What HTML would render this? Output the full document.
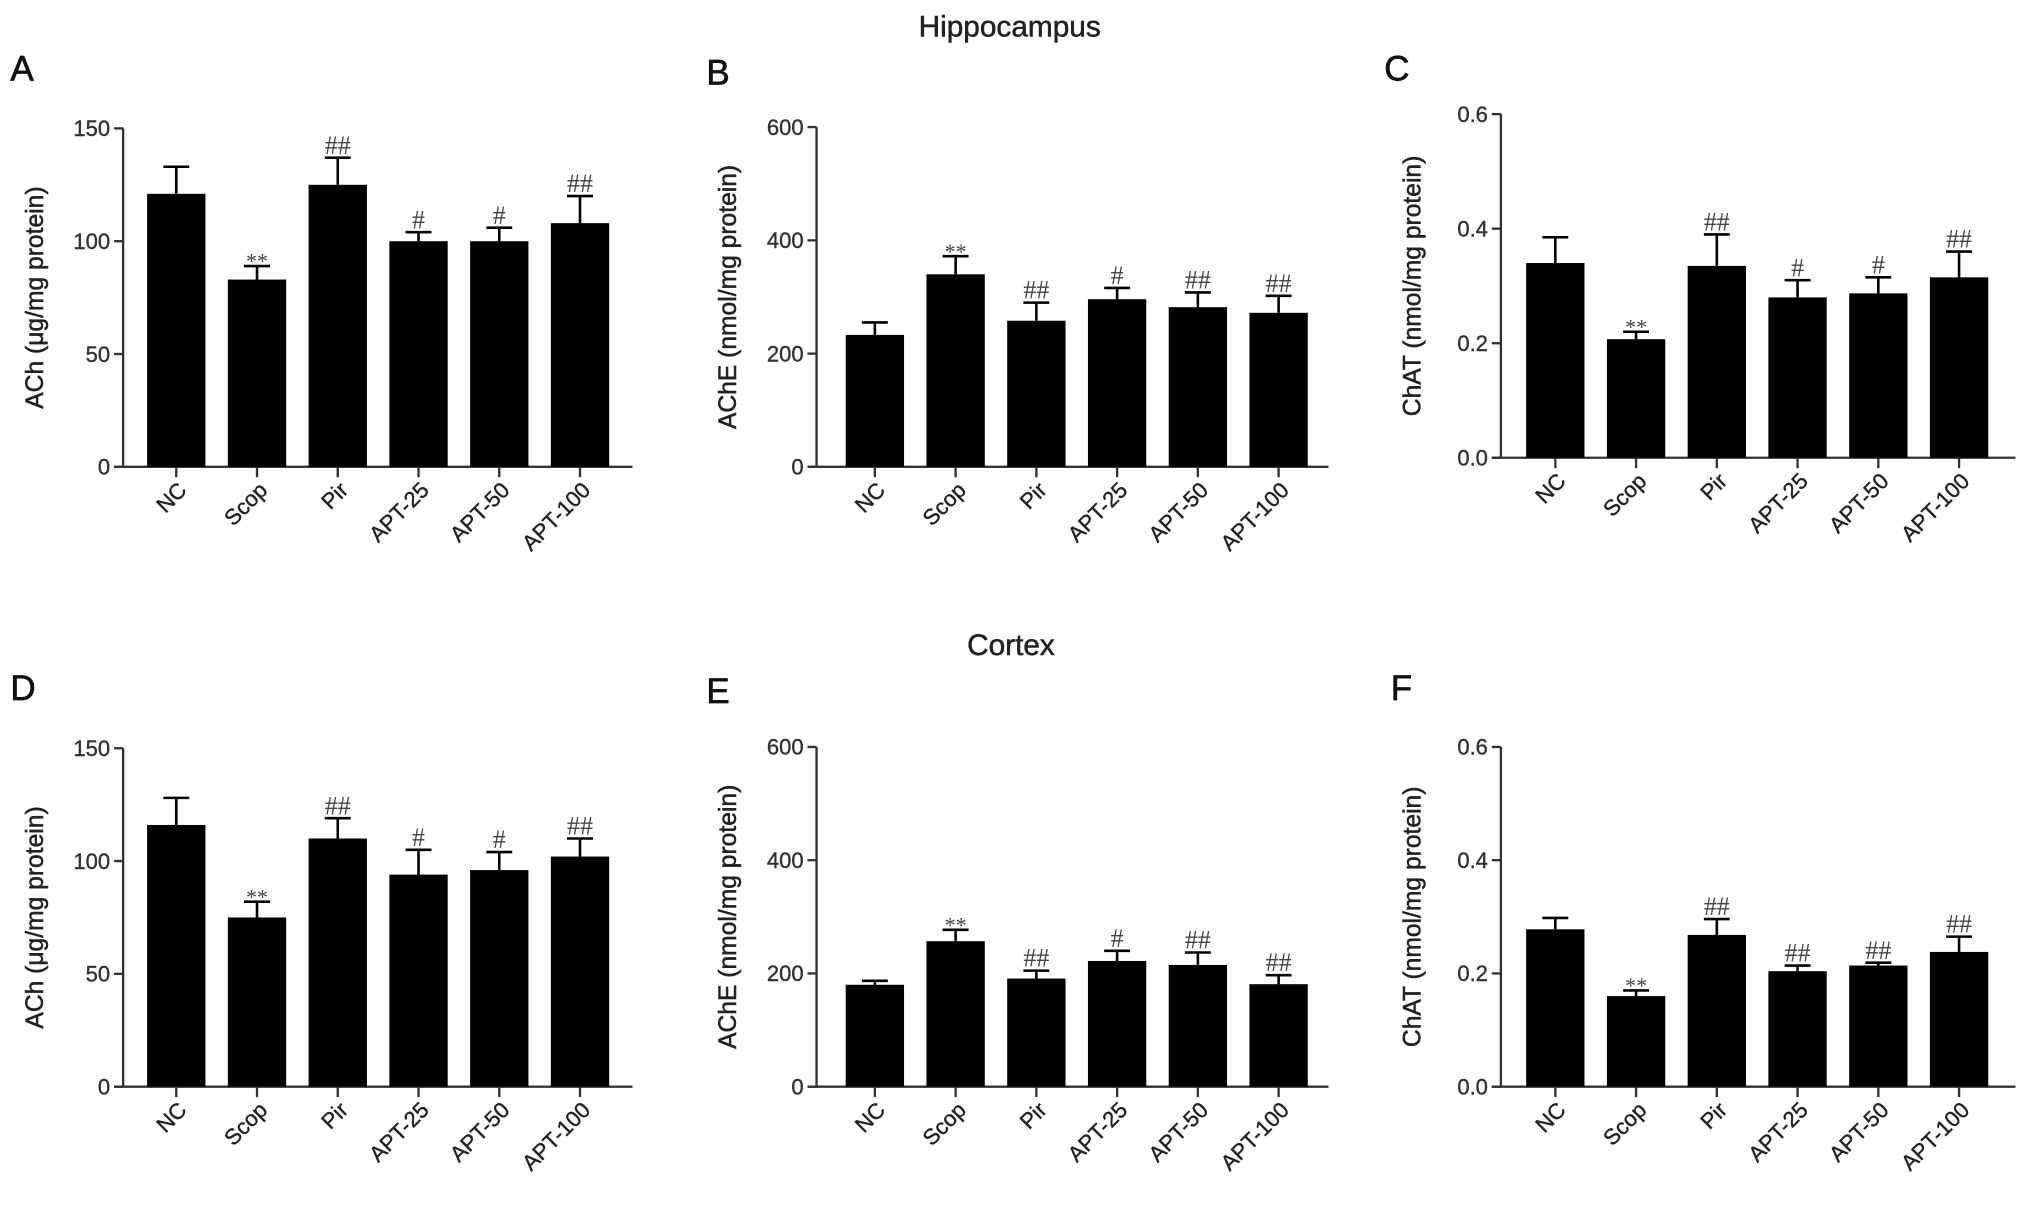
<!DOCTYPE html>
<html><head><meta charset="utf-8"><style>
html,body{margin:0;padding:0;background:#fff;}
svg{display:block;font-family:"Liberation Sans",sans-serif;}
</style></head><body>
<svg id="fig" width="2031" height="1206" viewBox="0 0 1567 930" preserveAspectRatio="none" xmlns="http://www.w3.org/2000/svg">
<text x="779" y="28" text-anchor="middle" font-size="23" fill="#222" stroke="#222" stroke-width="0.4">Hippocampus</text>
<text x="780" y="505" text-anchor="middle" font-size="23" fill="#222" stroke="#222" stroke-width="0.4">Cortex</text>
</svg>
<script>
const categories = ["NC","Scop","Pir","APT-25","APT-50","APT-100"];
const valsA = [121,83,125,100,100,108];
const errA  = [133,89,137,104,106,120];
const valsB = [233,340,258,296,282,272];
const errB  = [255,372,290,316,308,302];
const valsC = [0.34,0.207,0.335,0.28,0.287,0.315];
const errC  = [0.385,0.22,0.39,0.31,0.315,0.36];
const valsD = [116,75,110,94,96,102];
const errD  = [128,82,119,105,104,110];
const valsE = [180,257,191,222,215,181];
const errE  = [187,277,205,240,237,197];
const valsF = [0.278,0.16,0.268,0.204,0.214,0.238];
const errF  = [0.298,0.17,0.296,0.214,0.219,0.265];
const sigA = ["","**","##","#","#","##"];
const sigB = ["","**","##","#","##","##"];
const sigC = ["","**","##","#","#","##"];
const sigD = ["","**","##","#","#","##"];
const sigE = ["","**","##","#","##","##"];
const sigF = ["","**","##","##","##","##"];
const ticksAch = [0,50,100,150];
const ticksAche = [0,200,400,600];
const ticksChat = [0,0.2,0.4,0.6];

const NS="http://www.w3.org/2000/svg";
const svg=document.getElementById('fig');
function mk(tag,attrs,parent){const e=document.createElementNS(NS,tag);for(const k in attrs)e.setAttribute(k,attrs[k]);(parent||svg).appendChild(e);return e;}

const panels=[
 {id:'a',letter:'A',lx:8,ly:62,ax:95,top:99,bot:360,x0:136,right:488,max:150,ticks:ticksAch,fmt:v=>v,title:'ACh (μg/mg protein)',vals:valsA,errs:errA,sig:sigA},
 {id:'b',letter:'B',lx:545,ly:65,ax:630,top:98,bot:360,x0:675,right:1025,max:600,ticks:ticksAche,fmt:v=>v,title:'AChE (nmol/mg protein)',vals:valsB,errs:errB,sig:sigB},
 {id:'c',letter:'C',lx:1068,ly:62,ax:1158,top:88,bot:353,x0:1200,right:1555,max:0.6,ticks:ticksChat,fmt:v=>v.toFixed(1),title:'ChAT (nmol/mg protein)',vals:valsC,errs:errC,sig:sigC},
 {id:'d',letter:'D',lx:8,ly:540,ax:95,top:577,bot:838,x0:136,right:488,max:150,ticks:ticksAch,fmt:v=>v,title:'ACh (μg/mg protein)',vals:valsD,errs:errD,sig:sigD},
 {id:'e',letter:'E',lx:545,ly:542,ax:630,top:576,bot:838,x0:675,right:1025,max:600,ticks:ticksAche,fmt:v=>v,title:'AChE (nmol/mg protein)',vals:valsE,errs:errE,sig:sigE},
 {id:'f',letter:'F',lx:1073,ly:540,ax:1158,top:576,bot:838,x0:1200,right:1555,max:0.6,ticks:ticksChat,fmt:v=>v.toFixed(1),title:'ChAT (nmol/mg protein)',vals:valsF,errs:errF,sig:sigF},
];
const step=62.3, bw=45;
panels.forEach(p=>{
 const g=mk('g',{});
 
 
 const y=v=>p.bot-(v/p.max)*(p.bot-p.top);
 const x=i=>p.x0+i*step;
 const L=mk('text',{x:p.lx,y:p.ly,'font-size':27,fill:'#111',stroke:'#111','stroke-width':0.5},g);L.textContent=p.letter;
 
 
 const ya=mk('line',{x1:p.ax,y1:p.top,x2:p.ax,y2:p.bot,stroke:'#333','stroke-width':1.8},g);
 
 
 const xa=mk('line',{x1:p.ax-7,y1:p.bot,x2:p.right,y2:p.bot,stroke:'#333','stroke-width':1.8},g);
 
 
 p.ticks.forEach(t=>{
  mk('line',{x1:p.ax-7,y1:y(t),x2:p.ax,y2:y(t),stroke:'#333','stroke-width':1.8},g);
  const tl=mk('text',{x:p.ax-10,y:y(t)+6,'text-anchor':'end','font-size':17,fill:'#333',stroke:'#333','stroke-width':0.3},g);
  tl.textContent=p.fmt(t);
  
  
 });
 const cy=(p.top+p.bot)/2;
 const yt=mk('text',{x:0,y:0,transform:`translate(${p.ax-62},${cy}) rotate(-90)`,'text-anchor':'middle','font-size':19,fill:'#222',stroke:'#222','stroke-width':0.4},g);
 yt.textContent=p.title;
 
 
 categories.forEach((c,i)=>{
  const cx=x(i);
  const r=mk('rect',{x:cx-bw/2,y:y(p.vals[i]),width:bw,height:p.bot-y(p.vals[i]),fill:'#000'},g);
  
  
  const ey=y(p.errs[i]);
  const e1=mk('line',{x1:cx,y1:y(p.vals[i]),x2:cx,y2:ey,stroke:'#000','stroke-width':2},g);
  
  
  mk('line',{x1:cx-10,y1:ey,x2:cx+10,y2:ey,stroke:'#000','stroke-width':2},g);
  if(p.sig[i]){
   const s=mk('text',{x:cx,y:ey-(p.sig[i]=='**'?-2:3),'text-anchor':'middle','font-size':p.sig[i]=='**'?17:20,fill:'#444','font-family':'"Liberation Serif",serif'},g);
   s.textContent=p.sig[i];
   
   
  }
  mk('line',{x1:cx,y1:p.bot,x2:cx,y2:p.bot+8,stroke:'#333','stroke-width':1.8},g);
  const xl=mk('text',{x:0,y:0,transform:`translate(${cx+9},${p.bot+19}) rotate(-45)`,'text-anchor':'end','font-size':17,fill:'#222',stroke:'#222','stroke-width':0.3},g);
  xl.textContent=c;
  
  
 });
});
</script>
</body></html>
